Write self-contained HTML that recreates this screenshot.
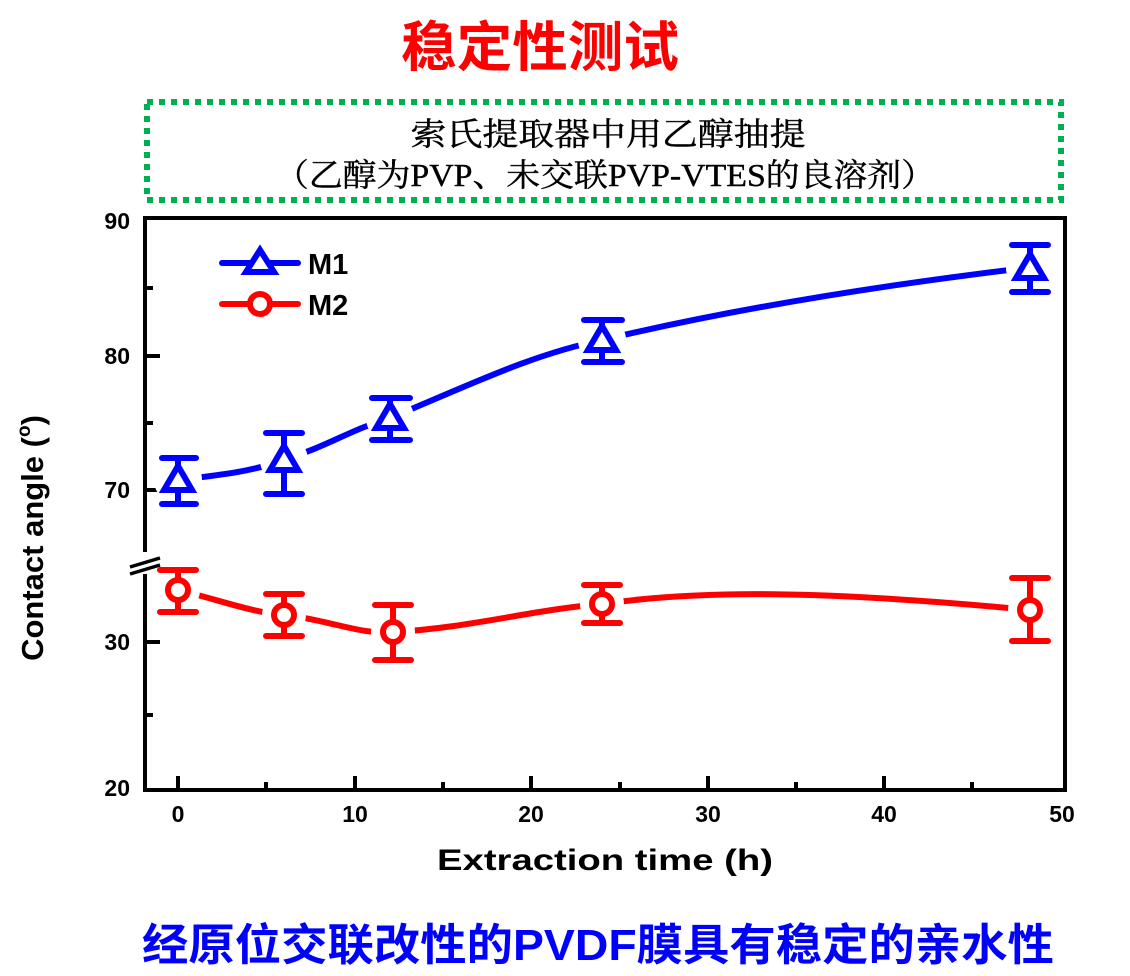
<!DOCTYPE html>
<html><head><meta charset="utf-8"><style>
html,body{margin:0;padding:0;background:#fff;}
svg{display:block;}
</style></head><body>
<svg width="1130" height="976" viewBox="0 0 1130 976" xmlns="http://www.w3.org/2000/svg">
<rect width="1130" height="976" fill="#fff"/>
<text x="540" y="66" text-anchor="middle" font-family="'Liberation Sans','Noto Sans CJK SC',sans-serif" font-weight="bold" font-size="54" fill="#ff0000" textLength="278" lengthAdjust="spacingAndGlyphs">稳定性测试</text>
<rect x="147" y="102" width="914" height="98" fill="none" stroke="#00b050" stroke-width="6" stroke-dasharray="6 6"/>
<text x="608" y="145" text-anchor="middle" font-family="'Liberation Serif','Noto Serif CJK SC',serif" font-size="32" fill="#000" stroke="#000" stroke-width="0.4" textLength="395" lengthAdjust="spacingAndGlyphs">索氏提取器中用乙醇抽提</text>
<text x="605" y="186" text-anchor="middle" font-family="'Liberation Serif','Noto Serif CJK SC',serif" font-size="32" fill="#000" stroke="#000" stroke-width="0.4" textLength="660" lengthAdjust="spacingAndGlyphs">（乙醇为PVP、未交联PVP-VTES的良溶剂）</text>

<rect x="145" y="218" width="920" height="572" fill="none" stroke="#000" stroke-width="4"/>
<g stroke="#000" stroke-width="4">
<line x1="145" y1="356" x2="160" y2="356"/><line x1="145" y1="490" x2="160" y2="490"/><line x1="145" y1="642" x2="160" y2="642"/>
<line x1="145" y1="288" x2="153" y2="288"/><line x1="145" y1="423" x2="153" y2="423"/><line x1="145" y1="715" x2="153" y2="715"/>
<line x1="178" y1="790" x2="178" y2="776"/><line x1="355" y1="790" x2="355" y2="776"/><line x1="531" y1="790" x2="531" y2="776"/><line x1="708" y1="790" x2="708" y2="776"/><line x1="884" y1="790" x2="884" y2="776"/>
<line x1="266" y1="790" x2="266" y2="782"/><line x1="443" y1="790" x2="443" y2="782"/><line x1="620" y1="790" x2="620" y2="782"/><line x1="796" y1="790" x2="796" y2="782"/><line x1="972" y1="790" x2="972" y2="782"/>
</g>
<rect x="140" y="552" width="12" height="22" fill="#fff"/>
<g stroke="#000" stroke-width="3.5"><line x1="130" y1="567" x2="160" y2="558"/><line x1="130" y1="574" x2="160" y2="565"/></g>

<g font-family="'Liberation Sans',sans-serif" font-weight="bold" font-size="23" fill="#000">
<g text-anchor="end"><text x="130" y="229">90</text><text x="130" y="364">80</text><text x="130" y="498">70</text><text x="130" y="650">30</text><text x="130" y="796">20</text></g>
<g text-anchor="middle"><text x="178" y="822">0</text><text x="355" y="822">10</text><text x="531" y="822">20</text><text x="708" y="822">30</text><text x="884" y="822">40</text><text x="1062" y="822">50</text></g>
</g>
<text x="605" y="870" text-anchor="middle" font-family="'Liberation Sans',sans-serif" font-weight="bold" font-size="30" fill="#000" textLength="336" lengthAdjust="spacingAndGlyphs">Extraction time (h)</text>
<text transform="translate(43,538) rotate(-90)" text-anchor="middle" font-family="'Liberation Sans',sans-serif" font-weight="bold" font-size="31" fill="#000">Contact angle (<tspan font-size="19" dy="-13">o</tspan><tspan dy="13">)</tspan></text>

<path d="M178,480 C220,475 250,472 284,460 C330,445 350,430 390,418 C470,385 530,355 602,340 C750,305 900,283 1025,268" fill="none" stroke="#0000ff" stroke-width="6" stroke-linecap="round"/>
<path d="M178,590 C220,600 250,612 284,615 C330,620 360,635 393,632 C470,628 530,610 602,604 C700,590 820,590 1030,610" fill="none" stroke="#ff0000" stroke-width="6" stroke-linecap="round"/>
<g fill="#fff"><circle cx="178" cy="480" r="24"/><circle cx="284" cy="460" r="24"/><circle cx="390" cy="418" r="24"/><circle cx="602" cy="340" r="24"/><circle cx="1030" cy="268" r="24"/>
<circle cx="178" cy="590" r="22"/><circle cx="284" cy="615" r="22"/><circle cx="393" cy="632" r="22"/><circle cx="602" cy="604" r="22"/><circle cx="1030" cy="610" r="22"/></g>

<g stroke="#0000ff" stroke-width="6" stroke-linecap="round" fill="#fff">
<path d="M178,458V504M162,458H196M162,504H196"/>
<path d="M284,433V494M266,433H302M266,494H302"/>
<path d="M390,398V440M372,398H410M372,440H410"/>
<path d="M602,320V362M584,320H622M584,362H622"/>
<path d="M1030,245V292M1012,245H1048M1012,292H1048"/>
<polygon points="178,466 164,490 192,490"/>
<polygon points="284,446 270,470 298,470"/>
<polygon points="390,404 376,428 404,428"/>
<polygon points="602,326 588,350 616,350"/>
<polygon points="1030,254 1016,278 1044,278"/>
</g>
<g stroke="#ff0000" stroke-width="6" stroke-linecap="round" fill="#fff">
<path d="M178,570V612M160,570H196M160,612H196"/>
<path d="M284,594V636M266,594H302M266,636H302"/>
<path d="M393,605V660M375,605H411M375,660H411"/>
<path d="M602,585V623M584,585H620M584,623H620"/>
<path d="M1030,578V641M1012,578H1048M1012,641H1048"/>
<circle cx="178" cy="590" r="10"/><circle cx="284" cy="615" r="10"/><circle cx="393" cy="632" r="10"/><circle cx="602" cy="604" r="10"/><circle cx="1030" cy="610" r="10"/>
</g>

<g stroke-width="6" stroke-linecap="round" fill="#fff">
<line x1="222" y1="263" x2="298" y2="263" stroke="#0000ff"/>
<polygon points="260,250 246,272 274,272" stroke="#0000ff"/>
<line x1="222" y1="304" x2="298" y2="304" stroke="#ff0000"/>
<circle cx="260" cy="304" r="10" stroke="#ff0000"/>
</g>
<g font-family="'Liberation Sans',sans-serif" font-weight="bold" font-size="29" fill="#000">
<text x="308" y="274">M1</text><text x="308" y="315">M2</text>
</g>

<text x="598" y="960" text-anchor="middle" font-family="'Liberation Sans','Noto Sans CJK SC',sans-serif" font-weight="bold" font-size="44" fill="#0000ff" textLength="912" lengthAdjust="spacingAndGlyphs">经原位交联改性的PVDF膜具有稳定的亲水性</text>
</svg>
</body></html>
